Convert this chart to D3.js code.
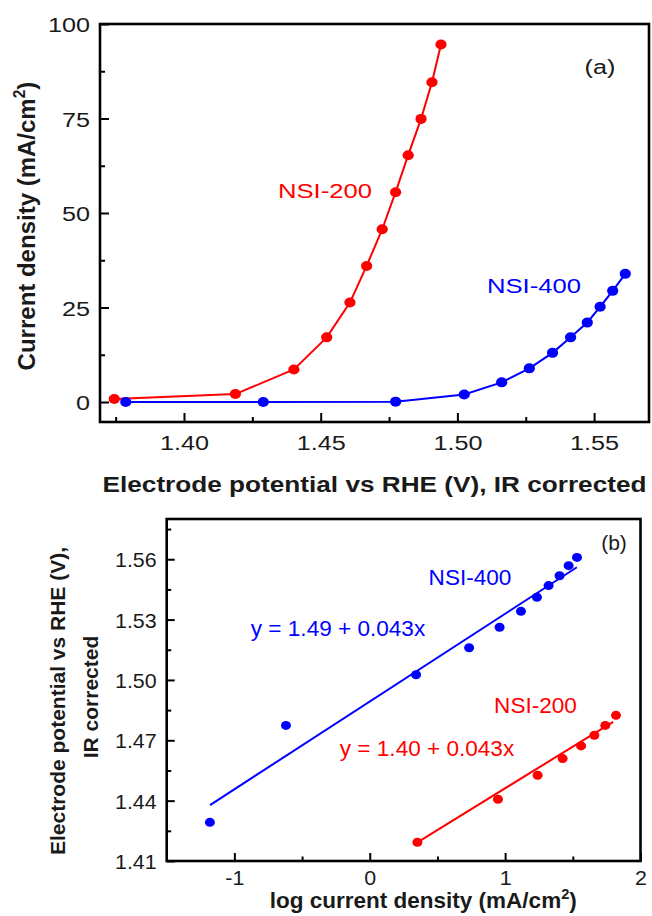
<!DOCTYPE html>
<html>
<head>
<meta charset="utf-8">
<script src="https://cdn.jsdelivr.net/npm/d3@7"></script>
<style>
  html, body { margin: 0; padding: 0; background: #fff; }
  svg { display: block; font-family: "Liberation Sans", Arial, sans-serif; }
</style>
</head>
<body>
<svg id="chart" width="652" height="916"></svg>
<script>
// ---------- Panel (a) data: current density vs potential ----------
const nsi200_potential = [1.3745, 1.4188, 1.4402, 1.4522, 1.4607, 1.4668, 1.4725, 1.4774, 1.4820, 1.4867, 1.4907, 1.4940];
const nsi200_current   = [0.8, 2.1, 8.6, 17.1, 26.3, 36.0, 45.7, 55.5, 65.3, 74.9, 84.6, 94.6];
const nsi400_potential = [1.3787, 1.4290, 1.4774, 1.5025, 1.5162, 1.5263, 1.5348, 1.5414, 1.5475, 1.5522, 1.5568, 1.5614];
const nsi400_current   = [0.0, 0.0, 0.1, 2.0, 5.2, 8.9, 13.0, 17.1, 21.0, 25.2, 29.4, 33.9];
const aXTicks = [1.40, 1.45, 1.50, 1.55];
const aXTickLabels = ["1.40", "1.45", "1.50", "1.55"];
const aXMinor = [1.375, 1.425, 1.475, 1.525];
const aYTicks = [0, 25, 50, 75, 100];
const aYTickLabels = ["0", "25", "50", "75", "100"];
const aYMinor = [12.5, 37.5, 62.5, 87.5];

// ---------- Panel (b) data: Tafel plot ----------
const nsi400_logj = [-1.181, -0.619, 0.342, 0.734, 0.959, 1.117, 1.235, 1.321, 1.402, 1.469, 1.531];
const nsi400_E    = [1.4292, 1.4774, 1.5026, 1.5160, 1.5262, 1.5341, 1.5411, 1.5469, 1.5518, 1.5568, 1.5609];
const nsi200_logj = [0.352, 0.947, 1.240, 1.425, 1.561, 1.659, 1.740, 1.819];
const nsi200_E    = [1.4193, 1.4407, 1.4526, 1.4609, 1.4672, 1.4725, 1.4774, 1.4824];
const nsi400_fit_x = [-1.18, 1.53];
const nsi400_fit_y = [1.4378, 1.5560];
const nsi200_fit_x = [0.352, 1.798];
const nsi200_fit_y = [1.4193, 1.4792];
const bXTicks = [-1, 0, 1, 2];
const bXTickLabels = ["-1", "0", "1", "2"];
const bXMinor = [-0.5, 0.5, 1.5];
const bYTicks = [1.41, 1.44, 1.47, 1.50, 1.53, 1.56];
const bYTickLabels = ["1.41", "1.44", "1.47", "1.50", "1.53", "1.56"];
const bYMinor = [1.425, 1.455, 1.485, 1.515, 1.545, 1.575];

const RED = "#ff0000", BLUE = "#0000ff", INK = "#1a1a1a";
const svg = d3.select("#chart");

// parts: strings, or {sup: "2"} for a superscript
function label(g, x, y, parts, o) {
  const t = g.append("text")
    .attr("transform", `translate(${x},${y}) ${o.rot ? "rotate(-90)" : ""} scale(${o.sx || 1},1)`)
    .attr("text-anchor", o.anchor || "middle")
    .attr("font-size", o.size)
    .attr("font-weight", o.weight || "normal")
    .attr("fill", o.fill || INK);
  let shift = 0;
  parts.forEach(p => {
    if (typeof p === "string") {
      t.append("tspan").attr("dy", -shift).text(p);
      shift = 0;
    } else {
      shift = 0.42 * o.size;
      t.append("tspan").attr("dy", -shift).attr("font-size", 0.65 * o.size).text(p.sup);
      shift = -shift; // so the next string tspan returns to baseline
    }
  });
  return t;
}

function panel(cfg) {
  const x = d3.scaleLinear().domain(cfg.xDomain).range([cfg.left, cfg.right]);
  const y = d3.scaleLinear().domain(cfg.yDomain).range([cfg.bottom, cfg.top]);
  const g = svg.append("g");

  // minor ticks
  g.append("g").attr("transform", `translate(0,${cfg.bottom})`)
    .call(d3.axisBottom(x).tickValues(cfg.xMinor).tickSizeInner(-cfg.minor).tickSizeOuter(0).tickFormat(""))
    .call(a => a.select(".domain").remove());
  g.append("g").attr("transform", `translate(${cfg.left},0)`)
    .call(d3.axisLeft(y).tickValues(cfg.yMinor).tickSizeInner(-cfg.minor).tickSizeOuter(0).tickFormat(""))
    .call(a => a.select(".domain").remove());

  // major ticks
  const xa = g.append("g").attr("transform", `translate(0,${cfg.bottom})`)
    .call(d3.axisBottom(x).tickValues(cfg.xTicks).tickSizeInner(-cfg.major).tickSizeOuter(0)
      .tickFormat((d, i) => cfg.xLabels[i]));
  xa.select(".domain").remove();
  xa.selectAll("text").attr("y", null).attr("dy", null)
    .attr("transform", `translate(0,${cfg.xLabelDy}) scale(${cfg.tickSx},1)`)
    .attr("font-size", cfg.tickSize).attr("fill", INK).attr("font-family", null);

  const ya = g.append("g").attr("transform", `translate(${cfg.left},0)`)
    .call(d3.axisLeft(y).tickValues(cfg.yTicks).tickSizeInner(-cfg.major).tickSizeOuter(0)
      .tickFormat((d, i) => cfg.yLabels[i]));
  ya.select(".domain").remove();
  ya.selectAll("text").attr("x", null).attr("dy", "0.36em")
    .attr("transform", `translate(${-cfg.yPad},0) scale(${cfg.tickSx},1)`)
    .attr("font-size", cfg.tickSize).attr("fill", INK).attr("font-family", null);

  g.selectAll(".tick line").attr("stroke", "#000").attr("stroke-width", 2);

  // frame
  g.append("rect").attr("x", cfg.left).attr("y", cfg.top)
    .attr("width", cfg.right - cfg.left).attr("height", cfg.bottom - cfg.top)
    .attr("fill", "none").attr("stroke", "#000").attr("stroke-width", 2.6);

  return { x, y, g };
}

// ================= Panel (a) =================
const A = panel({
  left: 100, right: 649, top: 24, bottom: 422,
  xDomain: [1.36928, 1.57008], yDomain: [-5.29, 100],
  xTicks: aXTicks, xLabels: aXTickLabels, xMinor: aXMinor,
  yTicks: aYTicks, yLabels: aYTickLabels, yMinor: aYMinor,
  major: 9, minor: 5, tickSize: 21, tickSx: 1.2, xLabelDy: 28, yPad: 10
});
{
  const line = d3.line().x(d => A.x(d[0])).y(d => A.y(d[1]));
  const series = [
    { xs: nsi200_potential, ys: nsi200_current, c: RED },
    { xs: nsi400_potential, ys: nsi400_current, c: BLUE }
  ];
  series.forEach(s => {
    const pts = s.xs.map((v, i) => [v, s.ys[i]]);
    A.g.append("path").datum(pts).attr("d", line)
      .attr("fill", "none").attr("stroke", s.c).attr("stroke-width", 2);
    A.g.selectAll(null).data(pts).enter().append("ellipse")
      .attr("cx", d => A.x(d[0])).attr("cy", d => A.y(d[1]))
      .attr("rx", 5.6).attr("ry", 5).attr("fill", s.c);
  });
  label(A.g, 600, 74, ["(a)"], { size: 21, sx: 1.2 });
  label(A.g, 325, 198, ["NSI-200"], { size: 20.5, sx: 1.25, fill: RED });
  label(A.g, 534, 293, ["NSI-400"], { size: 20.5, sx: 1.25, fill: BLUE });
  label(svg, 374.5, 491.5, ["Electrode potential vs RHE (V), IR corrected"], { size: 22, weight: "bold", sx: 1.19 });
  label(svg, 35, 226, ["Current density (mA/cm", { sup: "2" }, ")"],
    { size: 24, weight: "bold", rot: true });
}

// ================= Panel (b) =================
const B = panel({
  left: 166.7, right: 640.5, top: 519, bottom: 861,
  xDomain: [-1.5, 2], yDomain: [1.41, 1.58],
  xTicks: bXTicks, xLabels: bXTickLabels, xMinor: bXMinor,
  yTicks: bYTicks, yLabels: bYTickLabels, yMinor: bYMinor,
  major: 8, minor: 4.5, tickSize: 21, tickSx: 1.02, xLabelDy: 24, yPad: 10
});
{
  const line = d3.line().x(d => B.x(d[0])).y(d => B.y(d[1]));
  const fits = [
    { xs: nsi400_fit_x, ys: nsi400_fit_y, c: BLUE },
    { xs: nsi200_fit_x, ys: nsi200_fit_y, c: RED }
  ];
  fits.forEach(s => {
    B.g.append("path").datum(s.xs.map((v, i) => [v, s.ys[i]])).attr("d", line)
      .attr("fill", "none").attr("stroke", s.c).attr("stroke-width", 2);
  });
  const pts = [
    { xs: nsi400_logj, ys: nsi400_E, c: BLUE },
    { xs: nsi200_logj, ys: nsi200_E, c: RED }
  ];
  pts.forEach(s => {
    B.g.selectAll(null).data(s.xs.map((v, i) => [v, s.ys[i]])).enter().append("ellipse")
      .attr("cx", d => B.x(d[0])).attr("cy", d => B.y(d[1]))
      .attr("rx", 5).attr("ry", 4.5).attr("fill", s.c);
  });
  label(B.g, 614, 550, ["(b)"], { size: 21 });
  label(B.g, 470, 585, ["NSI-400"], { size: 21.5, fill: BLUE, sx: 1.05 });
  label(B.g, 338, 636, ["y = 1.49 + 0.043x"], { size: 21.5, fill: BLUE, sx: 1.05 });
  label(B.g, 535.5, 713, ["NSI-200"], { size: 21.5, fill: RED, sx: 1.05 });
  label(B.g, 427, 756, ["y = 1.40 + 0.043x"], { size: 21.5, fill: RED, sx: 1.05 });
  label(svg, 423.3, 908, ["log current density (mA/cm", { sup: "2" }, ")"],
    { size: 22.5, weight: "bold" });
  label(svg, 65, 701, ["Electrode potential vs RHE (V),"], { size: 21, weight: "bold", rot: true });
  label(svg, 98, 697, ["IR corrected"], { size: 21, weight: "bold", rot: true });
}
</script>
</body>
</html>
